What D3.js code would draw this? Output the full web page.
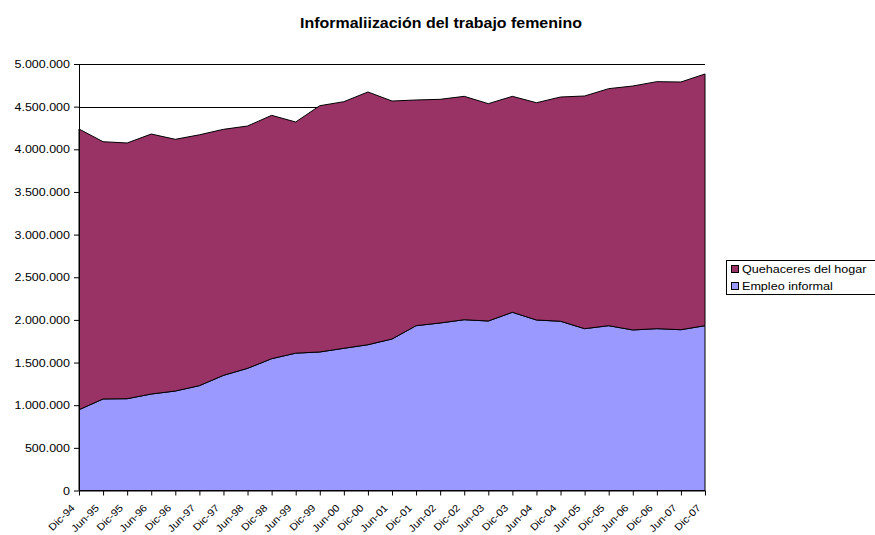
<!DOCTYPE html>
<html>
<head>
<meta charset="utf-8">
<script src="https://cdn.jsdelivr.net/npm/d3@7"></script>
<style>
  body { margin: 0; background: #fff; }
  svg text { font-family: Arial, "Liberation Sans", sans-serif; fill: #000; }
</style>
</head>
<body>
<div id="chart"></div>
<script>
// periods on the x axis
const periods = ["Dic-94", "Jun-95", "Dic-95", "Jun-96", "Dic-96", "Jun-97", "Dic-97", "Jun-98", "Dic-98", "Jun-99",
  "Dic-99", "Jun-00", "Dic-00", "Jun-01", "Dic-01", "Jun-02", "Dic-02", "Jun-03", "Dic-03", "Jun-04",
  "Dic-04", "Jun-05", "Dic-05", "Jun-06", "Dic-06", "Jun-07", "Dic-07"];

// series values
const empleoInformal = [947000, 1073000, 1076000, 1131000, 1166000, 1229000, 1350000, 1432000, 1545000, 1610000,
  1624000, 1667000, 1709000, 1776000, 1932000, 1964000, 2002000, 1987000, 2089000, 1999000,
  1984000, 1897000, 1932000, 1882000, 1897000, 1885000, 1932000];
const quehaceresHogar = [3291000, 3016000, 2998000, 3048000, 2951000, 2941000, 2884000, 2841000, 2853000, 2710000,
  2887000, 2891000, 2963000, 2790000, 2646000, 2622000, 2619000, 2548000, 2532000, 2547000,
  2629000, 2728000, 2779000, 2860000, 2896000, 2904000, 2951000];

const yTicks = [0, 500000, 1000000, 1500000, 2000000, 2500000, 3000000, 3500000, 4000000, 4500000, 5000000];

const series = [
  { key: "empleo", name: "Empleo informal", color: "#9999ff" },
  { key: "quehaceres", name: "Quehaceres del hogar", color: "#993366" }
];

const width = 875, height = 535;
const plotLeft = 79, plotRight = 705, plotTop = 64, plotBottom = 490.5;
const stretch = 1.25;

const rows = periods.map((p, i) => ({ period: p, empleo: empleoInformal[i], quehaceres: quehaceresHogar[i] }));

const svg = d3.select("#chart").append("svg")
  .attr("width", width)
  .attr("height", height);

const x = d3.scalePoint().domain(periods).range([plotLeft, plotRight]);
const y = d3.scaleLinear().domain([0, 5000000]).range([plotBottom, plotTop]);

const fmt = v => d3.format(",")(v).replace(/,/g, ".");

// gridlines
svg.append("g")
  .selectAll("line")
  .data(yTicks.filter(d => d > 0))
  .join("line")
  .attr("x1", plotLeft)
  .attr("x2", plotRight)
  .attr("y1", d => Math.round(y(d)) + 0.5)
  .attr("y2", d => Math.round(y(d)) + 0.5)
  .style("stroke", "#000");

// stacked areas
const stacked = d3.stack().keys(series.map(s => s.key))(rows);
const area = d3.area()
  .x(d => x(d.data.period))
  .y0(d => y(d[0]))
  .y1(d => y(d[1]));

svg.append("g")
  .selectAll("path")
  .data(stacked)
  .join("path")
  .attr("d", area)
  .style("fill", (d, i) => series[i].color)
  .style("stroke", "#000")
  .style("stroke-width", 1);

// y axis
const yAxis = svg.append("g")
  .attr("transform", `translate(${plotLeft},0)`)
  .call(d3.axisLeft(y).tickValues(yTicks).tickFormat(fmt).tickSize(5).tickSizeOuter(0));
yAxis.select(".domain").style("stroke", "#000");
yAxis.selectAll("text")
  .style("font-size", "10px")
  .attr("x", null)
  .attr("dy", "0.35em")
  .attr("transform", `translate(-9,0) scale(${stretch},1)`);

// x axis (labels kept just inside the bottom edge)
const xAxis = svg.append("g")
  .attr("transform", `translate(0,${plotBottom})`)
  .call(d3.axisBottom(x).tickSize(5).tickSizeOuter(0));
xAxis.select(".domain").style("stroke", "#000");
xAxis.selectAll("text")
  .style("font-size", "10px")
  .style("text-anchor", "end")
  .attr("y", null)
  .attr("dy", null)
  .attr("transform", `translate(-4,18) rotate(-45) scale(1.12,1)`);

// title
svg.append("text")
  .attr("transform", "translate(441,28) scale(1.14,1)")
  .style("text-anchor", "middle")
  .style("font-size", "14px")
  .style("font-weight", "bold")
  .text("Informaliización del trabajo femenino");

// legend
const legend = svg.append("g").attr("transform", "translate(726,260)");
legend.append("rect")
  .attr("x", 0.5).attr("y", 0.5)
  .attr("width", 160).attr("height", 34)
  .style("fill", "#fff")
  .style("stroke", "#000");

const legendItems = [series[1], series[0]];
legendItems.forEach((s, i) => {
  const g = legend.append("g").attr("transform", `translate(5,${5 + i * 17})`);
  g.append("rect")
    .attr("x", 0.5).attr("y", 0.5)
    .attr("width", 7).attr("height", 7)
    .style("fill", s.color)
    .style("stroke", "#000");
  g.append("text")
    .attr("transform", `translate(11,8) scale(1.2,1)`)
    .style("font-size", "10.5px")
    .text(s.name);
});
</script>
</body>
</html>
